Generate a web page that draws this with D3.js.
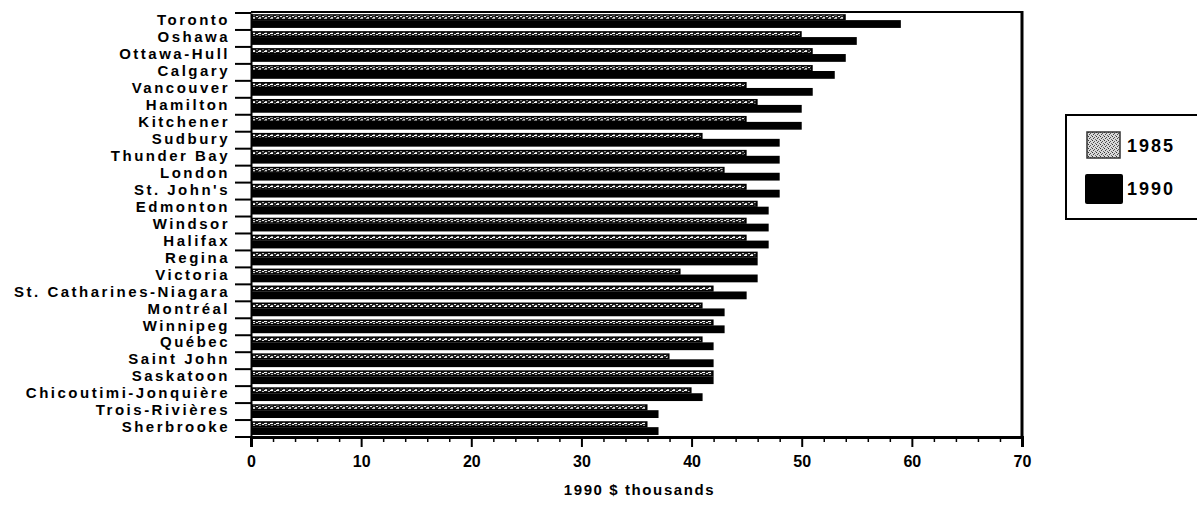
<!DOCTYPE html>
<html>
<head>
<meta charset="utf-8">
<script src="https://cdn.jsdelivr.net/npm/d3@7"></script>
<style>
  html, body { margin: 0; padding: 0; background: #fff; }
  svg { display: block; }
  text { font-family: "Liberation Sans", Arial, Helvetica, sans-serif; font-weight: bold; fill: #000; }
</style>
</head>
<body>
<svg id="chart" width="1197" height="506"></svg>
<script>
const cities = ["Toronto","Oshawa","Ottawa-Hull","Calgary","Vancouver","Hamilton","Kitchener","Sudbury","Thunder Bay","London","St. John's","Edmonton","Windsor","Halifax","Regina","Victoria","St. Catharines-Niagara","Montréal","Winnipeg","Québec","Saint John","Saskatoon","Chicoutimi-Jonquière","Trois-Rivières","Sherbrooke"];
const values1985 = [54,50,51,51,45,46,45,41,45,43,45,46,45,45,46,39,42,41,42,41,38,42,40,36,36];
const values1990 = [59,55,54,53,51,50,50,48,48,48,48,47,47,47,46,46,45,43,43,42,42,42,41,37,37];
const seriesNames = ["1985","1990"];
const xTicksMajor = [0,10,20,30,40,50,60,70];
const xTicksMinor = [2,4,6,8,12,14,16,18,22,24,26,28,32,34,36,38,42,44,46,48,52,54,56,58,62,64,66,68];
const xTitle = "1990 $ thousands";

const svg = d3.select("#chart");
const defs = svg.append("defs");

const p1 = defs.append("pattern").attr("id","barStip").attr("patternUnits","userSpaceOnUse")
  .attr("width",6).attr("height",3);
p1.append("rect").attr("width",6).attr("height",3).attr("fill","#222");
p1.append("rect").attr("x",0).attr("y",0).attr("width",3).attr("height",1).attr("fill","#fff");
p1.append("rect").attr("x",4).attr("y",1).attr("width",2).attr("height",1).attr("fill","#eee");
p1.append("rect").attr("x",1).attr("y",2).attr("width",2).attr("height",1).attr("fill","#ccc");

const p2 = defs.append("pattern").attr("id","legStip").attr("patternUnits","userSpaceOnUse")
  .attr("width",4).attr("height",4);
p2.append("rect").attr("width",4).attr("height",4).attr("fill","#d8d8d8");
p2.append("rect").attr("x",0).attr("y",0).attr("width",1).attr("height",1).attr("fill","#333");
p2.append("rect").attr("x",2).attr("y",1).attr("width",1).attr("height",1).attr("fill","#555");
p2.append("rect").attr("x",1).attr("y",2).attr("width",1).attr("height",1).attr("fill","#444");
p2.append("rect").attr("x",3).attr("y",3).attr("width",1).attr("height",1).attr("fill","#666");

const pLeft = 251, pRight = 1022, pTop = 13, pBottom = 437;
const x = d3.scaleLinear().domain([0,70]).range([pLeft, pRight]);
const y = d3.scaleBand().domain(cities).range([pTop, pBottom]).paddingInner(0).paddingOuter(0);
const bw = y.bandwidth();

const g = svg.append("g");
cities.forEach((c,i) => {
  const y0 = y(c);
  g.append("rect")
    .attr("x", x(0)).attr("y", y0 + bw*0.42)
    .attr("width", x(values1990[i]) - x(0)).attr("height", bw*0.46)
    .attr("fill","#000");
  const w85 = x(values1985[i]) - x(0);
  g.append("rect")
    .attr("x", x(0)).attr("y", y0 + bw*0.07)
    .attr("width", w85).attr("height", bw*0.36)
    .attr("fill","#000");
  g.append("rect")
    .attr("x", x(0)+2).attr("y", y0 + bw*0.07 + 1.5)
    .attr("width", Math.max(0, w85-4)).attr("height", 3)
    .attr("fill","url(#barStip)");
});

svg.append("line").attr("x1",pLeft).attr("x2",pRight+1).attr("y1",pTop-1).attr("y2",pTop-1)
  .attr("stroke","#000").attr("stroke-width",2);
svg.append("line").attr("x1",pRight).attr("x2",pRight).attr("y1",pTop-2).attr("y2",pBottom)
  .attr("stroke","#000").attr("stroke-width",3);

const xAxis = d3.axisBottom(x).tickValues(xTicksMajor).tickSize(10).tickPadding(9).tickFormat(d3.format("d"));
const gx = svg.append("g").attr("transform",`translate(0,${pBottom})`).call(xAxis);
gx.select(".domain").attr("stroke","#000").attr("stroke-width",3);
gx.selectAll(".tick line").attr("stroke","#000").attr("stroke-width",2);
gx.selectAll(".tick text").attr("font-size",16).attr("font-family","Liberation Sans, Arial, sans-serif").attr("font-weight","bold");

const xAxisMinor = d3.axisBottom(x).tickValues(xTicksMinor).tickSize(5).tickFormat("");
const gxm = svg.append("g").attr("transform",`translate(0,${pBottom})`).call(xAxisMinor);
gxm.select(".domain").remove();
gxm.selectAll(".tick line").attr("stroke","#000").attr("stroke-width",1.5);

const yAxis = d3.axisLeft(y).tickSize(0).tickPadding(21);
const gy = svg.append("g").attr("transform",`translate(${pLeft},0)`).call(yAxis);
gy.select(".domain").attr("stroke","#000").attr("stroke-width",2);
gy.selectAll(".tick text").attr("font-size",15).attr("letter-spacing","2.5px")
  .attr("font-family","Liberation Sans, Arial, sans-serif").attr("font-weight","bold")
  .attr("dy","0.25em");
const bounds = cities.map(c => y(c)).concat([y.range()[1]]);
gy.selectAll("line.bt").data(bounds).enter().append("line").attr("class","bt")
  .attr("x1",-16).attr("x2",0).attr("y1",d=>d).attr("y2",d=>d)
  .attr("stroke","#000").attr("stroke-width",2);

svg.append("text").attr("x", (pLeft+pRight)/2 + 3).attr("y", 495)
  .attr("text-anchor","middle").attr("font-size",15).attr("letter-spacing","1.6px")
  .text(xTitle);

const lg = svg.append("g");
lg.append("rect").attr("x",1066).attr("y",115).attr("width",150).attr("height",104)
  .attr("fill","#fff").attr("stroke","#000").attr("stroke-width",2);
lg.append("rect").attr("x",1087).attr("y",132).attr("width",33).attr("height",26)
  .attr("fill","url(#legStip)").attr("stroke","#333").attr("stroke-width",1.5);
lg.append("rect").attr("x",1085).attr("y",174).attr("width",38).attr("height",30)
  .attr("rx",2).attr("fill","#000");
lg.append("text").attr("x",1127).attr("y",146).attr("dy","0.36em").attr("font-size",18)
  .attr("letter-spacing","2px").text(seriesNames[0]);
lg.append("text").attr("x",1127).attr("y",189).attr("dy","0.36em").attr("font-size",18)
  .attr("letter-spacing","2px").text(seriesNames[1]);
</script>
</body>
</html>
